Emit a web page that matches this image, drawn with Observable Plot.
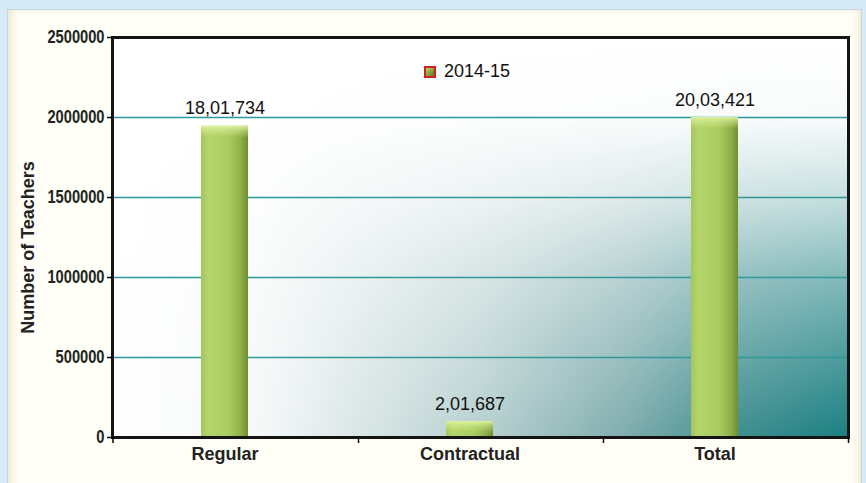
<!DOCTYPE html>
<html><head><meta charset="utf-8">
<script src="https://cdn.jsdelivr.net/npm/d3@7"></script>
<script src="https://cdn.jsdelivr.net/npm/@observablehq/plot@0.6"></script>
<style>
body{margin:0;background:#d5ebf8;font-family:"Liberation Sans",Arial,sans-serif;}
#wrap{position:relative;width:866px;height:483px;overflow:hidden;}
#panel{position:absolute;left:7px;top:9px;width:853px;height:490px;background:#fffef7;border:1px solid #c9d4d8;box-shadow:inset 7px 0 8px -4px #ebe5cf, inset 0 -12px 10px -6px #e8e2cf, inset -6px 0 8px -4px #ebe5cf;}
#chart{position:absolute;left:0;top:0;}
#legend{position:absolute;left:424px;top:61px;font-size:18px;color:#111;display:flex;align-items:center;}
#legend .sw{width:8px;height:8px;border:2px solid #d42020;background:linear-gradient(135deg,#b8d86a,#557a1c);margin-right:8px;}
</style></head><body>
<div id="wrap"><div id="panel"></div><div id="chart"></div><div id="legend"><span class="sw"></span><span id="legtext"></span></div></div>
<script>
const categories = ["Regular", "Contractual", "Total"];
const barHeights = [1945000, 100000, 2000000];
const valueLabels = ["18,01,734", "2,01,687", "20,03,421"];
const seriesName = "2014-15";
const yTicks = [0, 500000, 1000000, 1500000, 2000000, 2500000];
const gridTicks = [500000, 1000000, 1500000, 2000000];
const yTitle = "Number of Teachers";

const data = categories.map((c, i) => ({cat: c, v: barHeights[i], label: valueLabels[i]}));
document.getElementById("legtext").textContent = seriesName;

const chart = Plot.plot({
  width: 866, height: 483,
  marginLeft: 112, marginRight: 18, marginTop: 37, marginBottom: 46,
  style: {background: "transparent", fontFamily: "'Liberation Sans', Arial, sans-serif"},
  x: {domain: categories, range: [101.5, 836.5], paddingInner: 0.81, paddingOuter: 0.405, label: null},
  y: {domain: [0, 2500000], label: null},
  marks: [
    Plot.frame({fill: "url(#hGrad)", stroke: "none"}),
    Plot.frame({fill: "url(#vGrad)", stroke: "none"}),
    Plot.gridY(gridTicks, {stroke: "#2f9898", strokeOpacity: 1, strokeWidth: 1.3}),
    Plot.barY(data, {x: "cat", y: "v", fill: "url(#barGrad)"}),
    Plot.barY(data, {x: "cat", y1: "v", y2: "v", insetBottom: -12, fill: "url(#capGrad)"}),
    Plot.text(data, {x: "cat", y: "v", text: "label", dy: -12, lineAnchor: "bottom", fontSize: 18, fill: "#111"}),
    Plot.frame({stroke: "#141414", strokeWidth: 3}),
    Plot.axisY(yTicks, {tickSize: 5, tickPadding: 3, tickFormat: d => String(d), fontSize: 18, fontWeight: "bold", fill: "#222", label: null, strokeWidth: 1.5}),
    Plot.axisX({tickSize: 0, tickPadding: 10, fontSize: 18, fontWeight: "bold", fill: "#222", label: null}),
    Plot.axisX(categories, {tickSize: 6, dx: 133.5, tickFormat: () => "", label: null, strokeWidth: 1.5}),
    Plot.axisX([categories[0]], {tickSize: 6, dx: -112, tickFormat: () => "", label: null, strokeWidth: 1.5}),
    Plot.text([yTitle], {frameAnchor: "left", dx: -84, dy: 10, rotate: -90, textAnchor: "middle", fontSize: 18, fontWeight: "bold", fill: "#222"})
  ]
});

d3.select(chart).insert("defs", ":first-child").html(`
  <linearGradient id="hGrad" x1="0" y1="0" x2="1" y2="0">
    <stop offset="0" stop-color="#ffffff"/>
    <stop offset="0.2" stop-color="#f5f8f8"/>
    <stop offset="0.5" stop-color="#b8d0d0"/>
    <stop offset="0.7" stop-color="#7eacad"/>
    <stop offset="0.85" stop-color="#3f8d8f"/>
    <stop offset="1" stop-color="#1a8082"/>
  </linearGradient>
  <linearGradient id="vGrad" x1="0" y1="0" x2="0" y2="1">
    <stop offset="0" stop-color="#ffffff" stop-opacity="1"/>
    <stop offset="0.2" stop-color="#ffffff" stop-opacity="0.97"/>
    <stop offset="0.4" stop-color="#ffffff" stop-opacity="0.75"/>
    <stop offset="0.6" stop-color="#ffffff" stop-opacity="0.45"/>
    <stop offset="0.8" stop-color="#ffffff" stop-opacity="0.22"/>
    <stop offset="1" stop-color="#ffffff" stop-opacity="0"/>
  </linearGradient>
  <linearGradient id="barGrad" x1="0" y1="0" x2="1" y2="0">
    <stop offset="0" stop-color="#a3c55c"/>
    <stop offset="0.15" stop-color="#b4d56a"/>
    <stop offset="0.6" stop-color="#a9cc61"/>
    <stop offset="0.85" stop-color="#8fae48"/>
    <stop offset="1" stop-color="#6f8e30"/>
  </linearGradient>
  <linearGradient id="capGrad" x1="0" y1="0" x2="0" y2="1">
    <stop offset="0" stop-color="#e4f7a6" stop-opacity="0.9"/>
    <stop offset="1" stop-color="#c5e27c" stop-opacity="0"/>
  </linearGradient>`);

for (const t of chart.querySelectorAll('g[aria-label="y-axis tick label"] text')) {
  const n = t.textContent.length;
  t.setAttribute("textLength", (n * 8.15).toFixed(1));
  t.setAttribute("lengthAdjust", "spacingAndGlyphs");
}
document.getElementById("chart").appendChild(chart);
</script>
</body></html>
